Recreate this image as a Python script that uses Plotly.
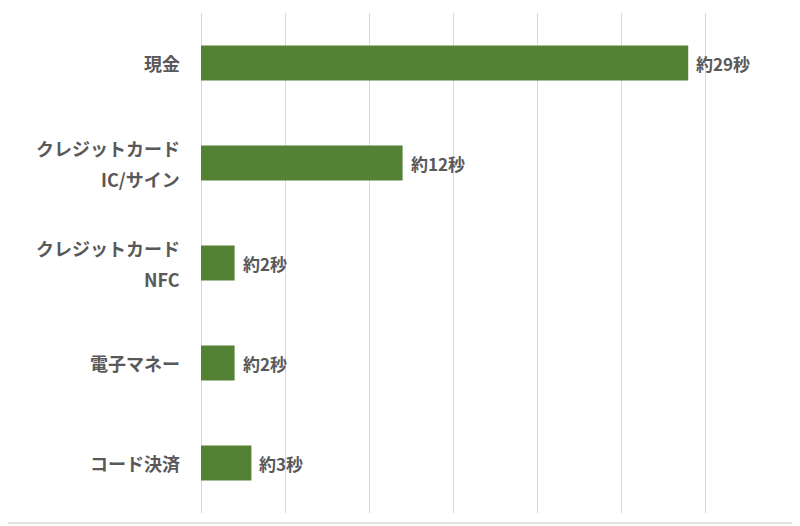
import plotly.graph_objects as go

categories = ["現金", "クレジットカード<br>IC/サイン", "クレジットカード<br>NFC", "電子マネー", "コード決済"]
values = [29, 12, 2, 2, 3]
value_labels = ["約29秒", "約12秒", "約2秒", "約2秒", "約3秒"]

FONT = "Noto Sans CJK JP"
TXT = "#595959"
GREEN = "#548235"

fig = go.Figure()
fig.add_trace(go.Bar(
    x=values,
    y=categories,
    orientation="h",
    marker=dict(color=GREEN, line=dict(width=0)),
    width=0.35,
    hoverinfo="skip",
))

annotations = []
for cat in categories:
    lines = cat.split("<br>")
    n = len(lines)
    for i, ln in enumerate(lines):
        shift = (n - 1) / 2 * 31 - i * 31
        annotations.append(dict(
            x=0, xref="paper", xanchor="right", xshift=-19,
            y=cat, yref="y", yanchor="middle", yshift=shift,
            text=ln, showarrow=False,
            font=dict(family=FONT, size=18, color=TXT, weight="bold"),
        ))
for cat, v, lab in zip(categories, values, value_labels):
    annotations.append(dict(
        x=v, xref="x", xanchor="left", xshift=6,
        y=cat, yref="y", yanchor="middle",
        text=lab, showarrow=False,
        font=dict(family=FONT, size=17, color=TXT, weight="bold"),
    ))

# page body has an 8px offset; margins compensate so the plot area lands at x 201-789, y 12-512
fig.update_layout(
    width=792, height=518,
    margin=dict(l=193, r=11, t=5, b=13),
    paper_bgcolor="white", plot_bgcolor="white",
    showlegend=False,
    annotations=annotations,
    xaxis=dict(range=[0, 35], dtick=5, showticklabels=False, showgrid=True,
               gridcolor="#d9d9d9", gridwidth=1, zeroline=True,
               zerolinecolor="#d9d9d9", zerolinewidth=1, showline=False, fixedrange=True),
    yaxis=dict(categoryorder="array", categoryarray=categories, autorange="reversed",
               showticklabels=False, showgrid=False, zeroline=False, showline=False,
               fixedrange=True),
    shapes=[dict(type="rect", xref="paper", yref="paper",
                 x0=-200/588, x1=(787 - 193) / 588, y0=-10/500, y1=1 + 12/500,
                 line=dict(color="#d9d9d9", width=1.5), fillcolor="rgba(0,0,0,0)",
                 layer="below")],
)

fig.write_html("out.html")
